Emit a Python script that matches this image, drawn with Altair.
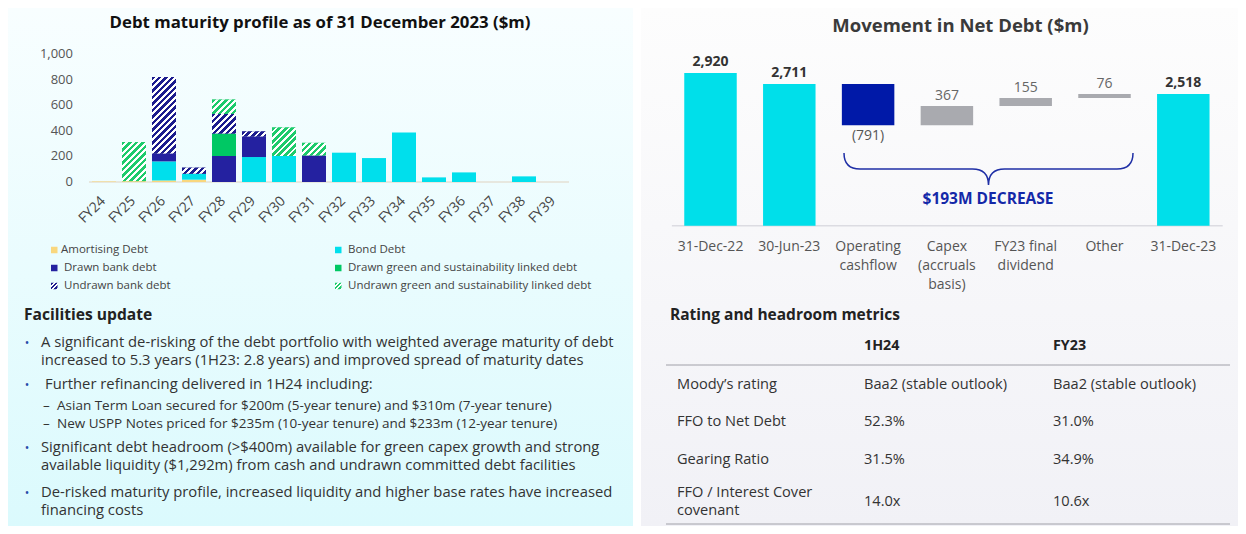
import altair as alt
import pandas as pd

# ---------------- data: debt maturity profile ($m) ----------------
fy = ["FY24", "FY25", "FY26", "FY27", "FY28", "FY29", "FY30", "FY31",
      "FY32", "FY33", "FY34", "FY35", "FY36", "FY37", "FY38", "FY39"]
amortising    = [4, 7, 12, 18, 0, 0, 0, 0, 0, 0, 0, 0, 0, 0, 0, 0]
bond          = [0, 0, 149, 47, 0, 195, 203, 0, 229, 187, 387, 36, 75, 0, 44, 0]
drawn_bank    = [0, 0, 62, 0, 203, 161, 0, 208, 0, 0, 0, 0, 0, 0, 0, 0]
drawn_green   = [0, 0, 0, 0, 176, 0, 0, 0, 0, 0, 0, 0, 0, 0, 0, 0]
undrawn_bank  = [0, 0, 598, 47, 153, 39, 0, 0, 0, 0, 0, 0, 0, 0, 0, 0]
undrawn_green = [0, 305, 0, 0, 112, 0, 223, 98, 0, 0, 0, 0, 0, 0, 0, 0]
seg_names = ["Amortising Debt", "Bond Debt", "Drawn bank debt",
             "Drawn green and sustainability linked debt",
             "Undrawn bank debt", "Undrawn green and sustainability linked debt"]
y_ticks = [0, 200, 400, 600, 800, 1000]
y_tick_labels = ["0", "200", "400", "600", "800", "1,000"]

# ---------------- data: movement in net debt ($m) ----------------
wf_cats = ["31-Dec-22", "30-Jun-23", "Operating\ncashflow", "Capex\n(accruals\nbasis)",
           "FY23 final\ndividend", "Other", "31-Dec-23"]
wf_values = [2920, 2711, -791, 367, 155, 76, 2518]
wf_is_total = [True, True, False, False, False, False, True]
wf_labels = ["2,920", "2,711", "(791)", "367", "155", "76", "2,518"]
decrease_label = "$193M DECREASE"

# ---------------- data: table ----------------
table_header = ["1H24", "FY23"]
table_rows = [
    ["Moody\u2019s rating", "Baa2 (stable outlook)", "Baa2 (stable outlook)"],
    ["FFO to Net Debt", "52.3%", "31.0%"],
    ["Gearing Ratio", "31.5%", "34.9%"],
    ["FFO / Interest Cover\ncovenant", "14.0x", "10.6x"],
]

facilities_title = "Facilities update"
bullets = [
    ["A significant de-risking of the debt portfolio with weighted average maturity of debt",
     "increased to 5.3 years (1H23: 2.8 years) and improved spread of maturity dates"],
    ["Further refinancing delivered in 1H24 including:"],
    ["Significant debt headroom (>$400m) available for green capex growth and strong",
     "available liquidity ($1,292m) from cash and undrawn committed debt facilities"],
    ["De-risked maturity profile, increased liquidity and higher base rates have increased",
     "financing costs"],
]
sub_bullets = [
    "Asian Term Loan secured for $200m (5-year tenure) and $310m (7-year tenure)",
    "New USPP Notes priced for $235m (10-year tenure) and $233m (12-year tenure)",
]

# ---------------- styling ----------------
FONT = "Open Sans"
H = 518
WL, WR = 625, 597
seg_colors = ["#F9D77E", "#00DFEC", "#2421A0", "#00C864", "#1C1C8E", "#1DCB6C"]
dummy = pd.DataFrame({"a": [0]})


def T(text, x, y, size=13, weight="normal", color="#333333", align="left", baseline="middle"):
    return alt.Chart(dummy).mark_text(
        text=text, font=FONT, fontSize=size, fontWeight=weight, color=color,
        align=align, baseline=baseline
    ).encode(x=alt.value(x), y=alt.value(y))


def hatch(color, W, Hh, period=6.5, frac=0.55):
    L = W + Hh
    stops = []
    s = 0.0
    while s < L - 1e-9:
        a = s / L
        b = min((s + period * frac) / L, 1.0)
        c = min((s + period) / L, 1.0)
        stops += [alt.GradientStop(offset=round(a, 5), color=color),
                  alt.GradientStop(offset=round(b, 5), color=color),
                  alt.GradientStop(offset=round(b, 5), color="#ffffff"),
                  alt.GradientStop(offset=round(c, 5), color="#ffffff")]
        s += period
    k = L / (W * W + Hh * Hh)
    return alt.LinearGradient(gradient="linear", stops=stops,
                              x1=0, y1=0, x2=round(W * k, 5), y2=round(Hh * k, 5))


def bg(width, top, bottom):
    grad = alt.LinearGradient(gradient="linear",
                              stops=[alt.GradientStop(offset=0, color=top),
                                     alt.GradientStop(offset=1, color=bottom)],
                              x1=0, y1=0, x2=0, y2=1)
    return alt.Chart(dummy).mark_rect(color=grad).encode(
        x=alt.value(0), x2=alt.value(width), y=alt.value(0), y2=alt.value(H))


# ================= LEFT PANEL =================
PX_X = 30.0
xs_l = alt.Scale(domain=[-3.2, -3.2 + WL / PX_X], nice=False, zero=False)
PX_Y = 0.128
y0_l = (174 - H) / PX_Y
ys_l = alt.Scale(domain=[y0_l, y0_l + H / PX_Y], nice=False, zero=False)

series = [amortising, bond, drawn_bank, drawn_green, undrawn_bank, undrawn_green]
rows = []
for i, f in enumerate(fy):
    for o, (nm, ser) in enumerate(zip(seg_names, series)):
        if ser[i] > 0:
            rows.append(dict(fy=f, idx=i, type=nm, order=o, value=ser[i]))
seg_df = pd.DataFrame(rows)

base = alt.Chart(seg_df).transform_stack(
    stack="value", groupby=["fy"], as_=["v0", "v1"],
    sort=[alt.SortField("order", order="ascending")]
).transform_calculate(xl="datum.idx - 0.4", xr="datum.idx + 0.4")

solid = base.mark_rect().encode(
    x=alt.X("xl:Q", scale=xs_l, axis=None), x2="xr:Q",
    y=alt.Y("v0:Q", scale=ys_l, axis=None), y2="v1:Q",
    color=alt.Color("type:N", scale=alt.Scale(domain=seg_names, range=seg_colors), legend=None),
)

hatch_layers = []
for r in rows:
    if r["type"].startswith("Undrawn"):
        col = seg_colors[r["order"]]
        g = hatch(col, 24.0, r["value"] * PX_Y)
        hatch_layers.append(
            base.transform_filter((alt.datum.fy == r["fy"]) & (alt.datum.type == r["type"]))
            .mark_rect(color=g)
            .encode(x=alt.X("xl:Q", scale=xs_l, axis=None), x2="xr:Q",
                    y=alt.Y("v0:Q", scale=ys_l, axis=None), y2="v1:Q")
        )

rule_l = alt.Chart(dummy).mark_rule(color="#e4e0d4", strokeWidth=1.5).encode(
    x=alt.X(datum=-0.5, type="quantitative", scale=xs_l, axis=None),
    x2=alt.X2(datum=15.5),
    y=alt.Y(datum=0, type="quantitative", scale=ys_l, axis=None),
)

ytick_df = pd.DataFrame({"v": y_ticks, "lab": y_tick_labels})
yticks = alt.Chart(ytick_df).mark_text(
    font=FONT, fontSize=13, color="#555555", align="right", baseline="middle"
).encode(x=alt.value(65), y=alt.Y("v:Q", scale=ys_l, axis=None), text="lab:N")

xtick_df = pd.DataFrame({"idx": list(range(len(fy))), "fy": fy})
xticks = alt.Chart(xtick_df).transform_calculate(xp="datum.idx - 0.02").mark_text(
    font=FONT, fontSize=14, color="#444444", align="right", baseline="middle", angle=315
).encode(x=alt.X("xp:Q", scale=xs_l, axis=None), y=alt.value(191), text="fy:N")

# legend
leg_layers = []
leg_pos = [(43, 53, 242), (327, 340, 242), (43, 56, 260), (327, 340, 260), (43, 56, 278), (327, 340, 278)]
for o, (nm, (sx, tx, ty)) in enumerate(zip(seg_names, leg_pos)):
    fill = hatch(seg_colors[o], 6.5, 6.5, period=4.4, frac=0.6) if nm.startswith("Undrawn") else seg_colors[o]
    leg_layers.append(alt.Chart(dummy).mark_rect(color=fill).encode(
        x=alt.value(sx), x2=alt.value(sx + 6.5), y=alt.value(ty - 3.25), y2=alt.value(ty + 3.25)))
    leg_layers.append(T(nm, tx, ty, size=11.5, color="#444444"))

# text block
txt_l = [T("Debt maturity profile as of 31 December 2023 ($m)", 312, 15, size=16.8, weight="bold",
           color="#111111", align="center"),
         T(facilities_title, 16, 307, size=15.6, weight="bold", color="#222222")]
bullet_y = [[335, 353], [377], [440, 458], [485, 503]]
bullet_x = [33, 37, 33, 33]
for lines, ys, bx in zip(bullets, bullet_y, bullet_x):
    txt_l.append(T("\u2022", 19, ys[0], size=12, color="#2a4aa8", align="center"))
    for ln, yy in zip(lines, ys):
        txt_l.append(T(ln, bx, yy, size=14.8, color="#333333"))
for ln, yy in zip(sub_bullets, [398, 416]):
    txt_l.append(T("\u2013", 35, yy, size=13.5, color="#333333"))
    txt_l.append(T(ln, 49, yy, size=13.5, color="#333333"))

left = alt.layer(
    bg(WL, "#f8feff", "#dbfafd"), rule_l, solid, *hatch_layers, yticks, xticks, *leg_layers, *txt_l
).properties(width=WL, height=H)

# ================= RIGHT PANEL =================
STEP = 78.8
x0_r = -69.5 / STEP
xs_r = alt.Scale(domain=[x0_r, x0_r + WR / STEP], nice=False, zero=False)
PXR = 0.0523
y0_r = (217.7 - H) / PXR
ys_r = alt.Scale(domain=[y0_r, y0_r + H / PXR], nice=False, zero=False)

wf_rows = []
run = 0
for i, (c, v, tot, lab) in enumerate(zip(wf_cats, wf_values, wf_is_total, wf_labels)):
    if tot:
        s, e = 0, v
        kind = "total"
    else:
        s, e = run, run + v
        kind = "decrease" if v < 0 else "increase"
    run = e
    wf_rows.append(dict(idx=i, cat=c, start=s, end=e, kind=kind, label=lab,
                        top=max(s, e), bottom=min(s, e),
                        pos="below" if v < 0 else "above", total=tot))
wf_df = pd.DataFrame(wf_rows)

wbase = alt.Chart(wf_df).transform_calculate(xl="datum.idx - 0.333", xr="datum.idx + 0.333")
wbars = wbase.mark_rect().encode(
    x=alt.X("xl:Q", scale=xs_r, axis=None), x2="xr:Q",
    y=alt.Y("start:Q", scale=ys_r, axis=None), y2="end:Q",
    color=alt.Color("kind:N", scale=alt.Scale(domain=["total", "decrease", "increase"],
                                              range=["#00DFEA", "#0019A8", "#A9AAAF"]), legend=None),
)
lab_tot = wbase.transform_filter(alt.datum.total == True).mark_text(
    font=FONT, fontSize=14, fontWeight="bold", color="#333333", baseline="middle", dy=-11
).encode(x=alt.X("idx:Q", scale=xs_r, axis=None), y=alt.Y("top:Q", scale=ys_r, axis=None), text="label:N")
lab_up = wbase.transform_filter((alt.datum.total == False) & (alt.datum.pos == "above")).mark_text(
    font=FONT, fontSize=14, color="#666666", baseline="middle", dy=-10
).encode(x=alt.X("idx:Q", scale=xs_r, axis=None), y=alt.Y("top:Q", scale=ys_r, axis=None), text="label:N")
lab_dn = wbase.transform_filter(alt.datum.pos == "below").mark_text(
    font=FONT, fontSize=14, color="#555555", baseline="middle", dy=11
).encode(x=alt.X("idx:Q", scale=xs_r, axis=None), y=alt.Y("bottom:Q", scale=ys_r, axis=None), text="label:N")

wx = wbase.mark_text(
    font=FONT, fontSize=14, color="#555555", baseline="top", lineBreak="\n", lineHeight=19
).encode(x=alt.X("idx:Q", scale=xs_r, axis=None), y=alt.value(232), text="cat:N")

rule_r = alt.Chart(dummy).mark_rule(color="#dcdce2", strokeWidth=1.5).encode(
    x=alt.X(datum=-0.49, type="quantitative", scale=xs_r, axis=None),
    x2=alt.X2(datum=6.5),
    y=alt.Y(datum=0, type="quantitative", scale=ys_r, axis=None),
)

brace_path = ("M -1 -0.111 Q -1 0 -0.889 0 L -0.111 0 Q 0 0 0 0.111 "
              "Q 0 0 0.111 0 L 0.889 0 Q 1 0 1 -0.111")
brace = alt.Chart(dummy).mark_point(
    shape=brace_path, size=289 * 289, filled=False, color="#1f2fa6", strokeWidth=1.5, opacity=1
).encode(x=alt.value(347.5), y=alt.value(161))

txt_r = [
    T("Movement in Net Debt ($m)", 319.5, 17.5, size=18.5, weight="bold", color="#3a3a3a", align="center"),
    T(decrease_label, 347, 191, size=15.5, weight="bold", color="#1428a8", align="center"),
    T("Rating and headroom metrics", 29, 307, size=15.5, weight="bold", color="#222222"),
    T(table_header[0], 223, 338, size=14.3, weight="bold", color="#222222"),
    T(table_header[1], 412, 338, size=14.3, weight="bold", color="#222222"),
]
row_y = [377, 414, 452, 494]
for r, yy in zip(table_rows, row_y):
    lab_lines = r[0].split("\n")
    if len(lab_lines) == 1:
        txt_r.append(T(lab_lines[0], 36, yy, size=14.6))
    else:
        txt_r.append(T(lab_lines[0], 36, yy - 9, size=14.6))
        txt_r.append(T(lab_lines[1], 36, yy + 9, size=14.6))
    txt_r.append(T(r[1], 223, yy, size=14.6))
    txt_r.append(T(r[2], 412, yy, size=14.6))

lines_r = [alt.Chart(dummy).mark_rule(color="#a0a0a8", strokeWidth=1).encode(
    x=alt.value(25), x2=alt.value(589), y=alt.value(yy)) for yy in (357, 516)]

right = alt.layer(
    bg(WR, "#fdfdfd", "#f1f1f6"), rule_r, wbars, lab_tot, lab_up, lab_dn, wx, brace, *txt_r, *lines_r
).properties(width=WR, height=H)

chart = alt.hconcat(left, right, spacing=8, padding=0, background="#ffffff").resolve_scale(
    color="independent", x="independent", y="independent"
).configure_view(stroke=None)
chart.save("out.html", embed_options={"renderer": "svg", "actions": False})
